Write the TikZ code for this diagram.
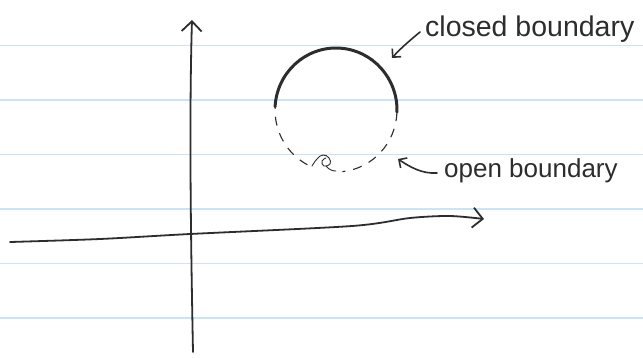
\documentclass[tikz,border=0pt]{standalone}
\usepackage{fontspec}
\setmainfont{Liberation Sans}
\usetikzlibrary{arrows.meta}
\definecolor{ruled}{RGB}{200,228,246}
\definecolor{ink}{RGB}{45,45,45}
\begin{document}
\begin{tikzpicture}[x=1pt,y=-1pt,
  ruleline/.style={ruled, line width=1.5pt},
  axis/.style={ink, line width=1.8pt, line cap=round, line join=round},
  barb/.style={-{Straight Barb[length=10pt,width=20pt]}},
  solidarc/.style={ink, line width=3pt, line cap=round},
  dasharc/.style={ink, line width=1.1pt, dash pattern=on 9pt off 8pt},
  pointer/.style={ink, line width=1.6pt, line cap=round, -{Straight Barb[length=6pt,width=12pt]}},
  handtext/.style={ink, inner sep=0pt, anchor=base west}]
\useasboundingbox (0,0) rectangle (643,357);
\fill[white] (0,0) rectangle (643,357);
% ruled notebook lines
\foreach \yy in {45.5,100,154.5,209,263.5,318}
  \draw[ruleline] (0,\yy) -- (643,\yy);
% axes
\draw[axis,barb] (193,352) .. controls (191,250) and (189,120) .. (192,20);
\draw[axis,barb] plot[smooth] coordinates {(10,242) (100,239) (190,234) (352,226) (410,218) (450,216) (484,219)};
% boundary shape
\draw[solidarc] (336,110) ++(183:61 and 62) arc[start angle=183, end angle=362, x radius=61, y radius=62];
\draw[dasharc] (336,110) ++(2:61 and 62) arc[start angle=2, end angle=84, x radius=61, y radius=62];
\draw[dasharc] (336,110) ++(118:61 and 62) arc[start angle=118, end angle=183, x radius=61, y radius=62];
% small doodle at the bottom
\draw[ink, line width=0.9pt, line cap=round] plot[smooth, tension=0.8] coordinates {(312,166) (317,159) (323,155) (329,158) (330,164) (324,166) (322,161) (326,158)};
\draw[ink, line width=0.9pt, line cap=round] (326,166) .. controls (329,170) and (333,171) .. (336,171);
% labels
\node[handtext, font=\fontsize{28.5}{28.5}\selectfont] (closedtxt) at (425,36) {closed boundary};
\node[handtext, font=\fontsize{26}{26}\selectfont] (opentxt) at (444,177) {open boundary};
% pointers
\coordinate (closedstart) at (420,32);
\coordinate (closedtip) at (392,58);
\coordinate (openstart) at (437,173);
\coordinate (opentip) at (398,159);
\draw[pointer] (closedstart) .. controls (408,42) and (400,49) .. (closedtip);
\draw[pointer] (openstart) .. controls (422,174) and (410,167) .. (opentip);
\end{tikzpicture}
\end{document}
